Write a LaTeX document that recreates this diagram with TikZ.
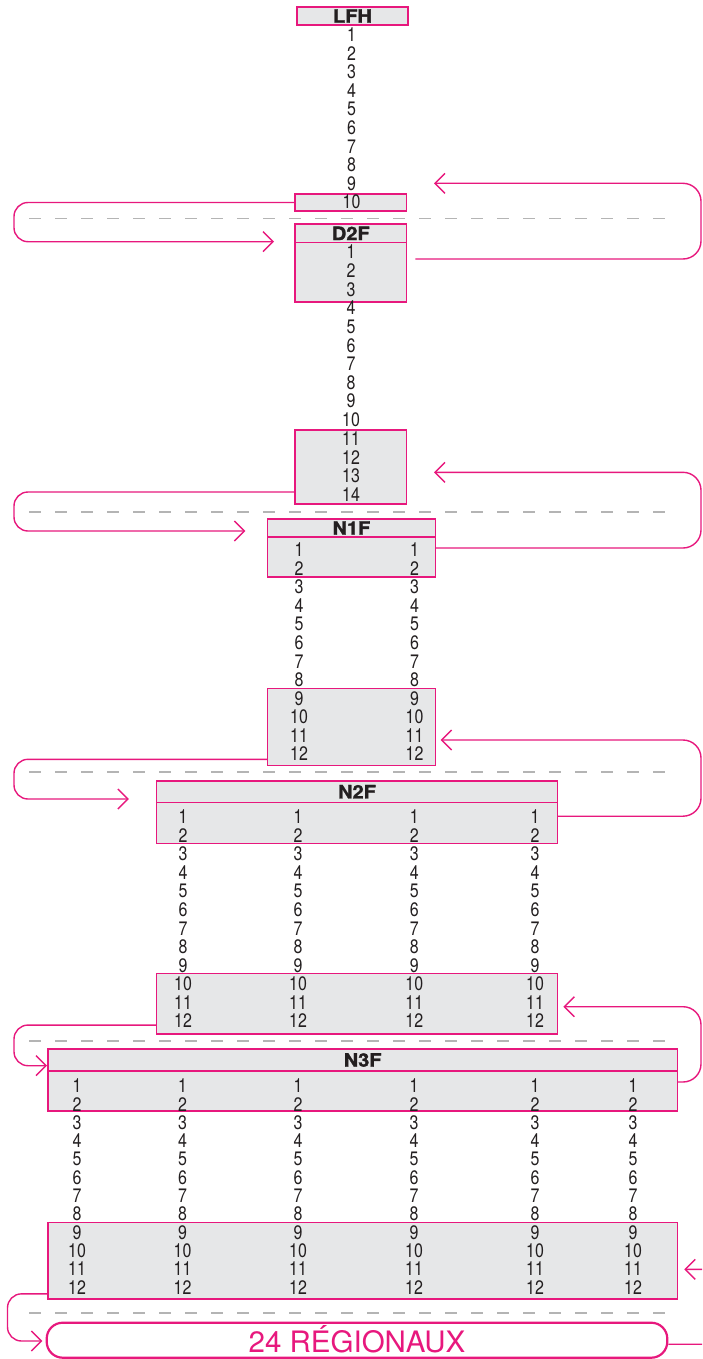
\documentclass[tikz,border=0pt]{standalone}
\usepackage{fontspec}
\setmainfont{TeX Gyre Heros}
\newfontfamily\numfont[FakeStretch=0.82]{TeX Gyre Heros}
\newfontfamily\hdfont[FakeStretch=1.08,FakeBold=1.5]{TeX Gyre Heros}
\usetikzlibrary{arrows.meta}
\definecolor{pk}{RGB}{231,24,125}
\definecolor{lg}{RGB}{230,231,232}
\definecolor{dg}{RGB}{180,180,180}
\definecolor{nb}{RGB}{35,31,32}

\begin{document}
\begin{tikzpicture}[x=1pt,y=-1pt]
\useasboundingbox (0,0) rectangle (702,1359);
\clip (0,0) rectangle (702,1359);

\tikzstyle{bx} = [rectangle, draw=pk, fill=lg, line width=1.4pt, inner sep=0pt]
\tikzstyle{hd} = [bx, text=nb, font=\hdfont\bfseries\fontsize{18.5}{18.5}\selectfont]
\tikzstyle{nm} = [inner sep=0pt, text=nb, font=\numfont\fontsize{19.5}{19.5}\selectfont]
\tikzstyle{e} = [draw=pk, line width=1.4pt, rounded corners=14pt, -{Straight Barb[length=10pt,width=20pt]}]
\tikzstyle{sep} = [draw=dg, line width=1.5pt, dash pattern=on 12pt off 14pt]

% separators
\foreach \y in {218.3,512,772,1041,1313} \draw[sep](29,\y)--(676,\y);

% LFH
\node[hd, minimum width=111pt, minimum height=18pt](lfh)at(352.5,16){LFH};
\node[bx, minimum width=111.7pt, minimum height=17pt](lfhb)at(350.8,202.5){};
\foreach \i in {1,...,10} \node[nm](lfh\i)at(351.5,{34.5+18.63*(\i-1)}){\i};

% D2F
\node[bx, minimum width=111.7pt, minimum height=78pt](d2f)at(350.8,263){};
\node[hd, minimum width=111.7pt, minimum height=18.7pt, anchor=north](d2fh)at(d2f.north){D2F};
\node[bx, minimum width=111.7pt, minimum height=74pt](d2fb)at(350.8,467){};
\foreach \i in {1,...,14} \node[nm](d2f\i)at(351,{252+18.65*(\i-1)}){\i};

% N1F
\node[bx, minimum width=167.8pt, minimum height=58pt](n1f)at(351.4,548){};
\node[hd, minimum width=167.8pt, minimum height=18pt, anchor=north](n1fh)at(n1f.north){N1F};
\node[bx, minimum width=167.8pt, minimum height=77.4pt](n1fb)at(351.4,727){};
\foreach \c/\x in {a/299,b/414.5}
  \foreach \i in {1,...,12} \node[nm](n1f\c\i)at(\x,{550+18.55*(\i-1)}){\i};

% N2F
\node[bx, minimum width=400.6pt, minimum height=62.3pt](n2f)at(357,812.2){};
\node[hd, minimum width=400.6pt, minimum height=21.3pt, anchor=north](n2fh)at(n2f.north){N2F};
\node[bx, minimum width=400.6pt, minimum height=60.7pt](n2fb)at(357,1003.65){};
\foreach \c/\x in {a/183,b/298,c/414.3,d/535}
  \foreach \i in {1,...,12} \node[nm](n2f\c\i)at(\x,{817+18.55*(\i-1)}){\i};

% N3F
\node[bx, minimum width=629.3pt, minimum height=62pt](n3f)at(362.65,1080){};
\node[hd, minimum width=629.3pt, minimum height=22pt, anchor=north](n3fh)at(n3f.north){N3F};
\node[bx, minimum width=629.3pt, minimum height=76.3pt](n3fb)at(362.65,1260.85){};
\foreach \c/\x in {a/77,b/182.5,c/298,d/414,e/535,f/633}
  \foreach \i in {1,...,12} \node[nm](n3f\c\i)at(\x,{1086+18.3*(\i-1)}){\i};

% regionaux
\node[draw=pk, line width=2.2pt, rounded corners=16pt, minimum width=620.6pt, minimum height=35pt, inner sep=0pt,
  text=pk, text height=25pt, text depth=0pt, font=\fontsize{29.5}{30}\selectfont](reg)at(357,1340.2){24 RÉGIONAUX};

% loop ends
\coordinate(lx)at(14,0);
\coordinate(lx2)at(7.5,0);
\coordinate(rx)at(701,0);
\coordinate(rx2)at(730,0);
\coordinate(s1)at([xshift=8pt,yshift=4pt]d2f.east);
\coordinate(s3)at([yshift=-4pt]n2f.east);
\coordinate(s4)at([yshift=-2pt]n3f.east);
\coordinate(s5)at([yshift=-4pt]reg.east);
\coordinate(s6)at([yshift=-25pt]d2fb.west);
\coordinate(s7)at([yshift=-32.3pt]n1fb.west);
\coordinate(s8)at([yshift=-21.4pt]n2fb.west);
\coordinate(s9)at([yshift=-33pt]n3fb.west);
\coordinate(t1)at(434,183.3);
\coordinate(t2)at(434,472.3);
\coordinate(t3)at(440.7,740);
\coordinate(t4)at(563.3,1006.7);
\coordinate(t5)at(684.3,1269.3);
\coordinate(t6)at(274,241.7);
\coordinate(t7)at(245.3,531);
\coordinate(t8)at(128.9,799);
\coordinate(t9)at(47,1065.7);
\coordinate(t10)at(42.3,1341);

% right loops
\draw[e, rounded corners=18pt](s1)--(s1 -| rx)--(t1 -| rx)--(t1);
\draw[e, rounded corners=18pt](n1f.east)--(n1f.east -| rx)--(t2 -| rx)--(t2);
\draw[e, rounded corners=18pt](s3)--(s3 -| rx)--(t3 -| rx)--(t3);
\draw[e, rounded corners=18pt](s4)--(s4 -| rx)--(t4 -| rx)--(t4);
\draw[e, rounded corners=18pt](s5)--(s5 -| rx2)--(t5 -| rx2)--(t5);

% left loops
\draw[e](lfhb.west)--(lfhb.west -| lx)--(t6 -| lx)--(t6);
\draw[e](s6)--(s6 -| lx)--(t7 -| lx)--(t7);
\draw[e](s7)--(s7 -| lx)--(t8 -| lx)--(t8);
\draw[e](s8)--(s8 -| lx)--(t9 -| lx)--(t9);
\draw[e](s9)--(s9 -| lx2)--(t10 -| lx2)--(t10);

\end{tikzpicture}
\end{document}
